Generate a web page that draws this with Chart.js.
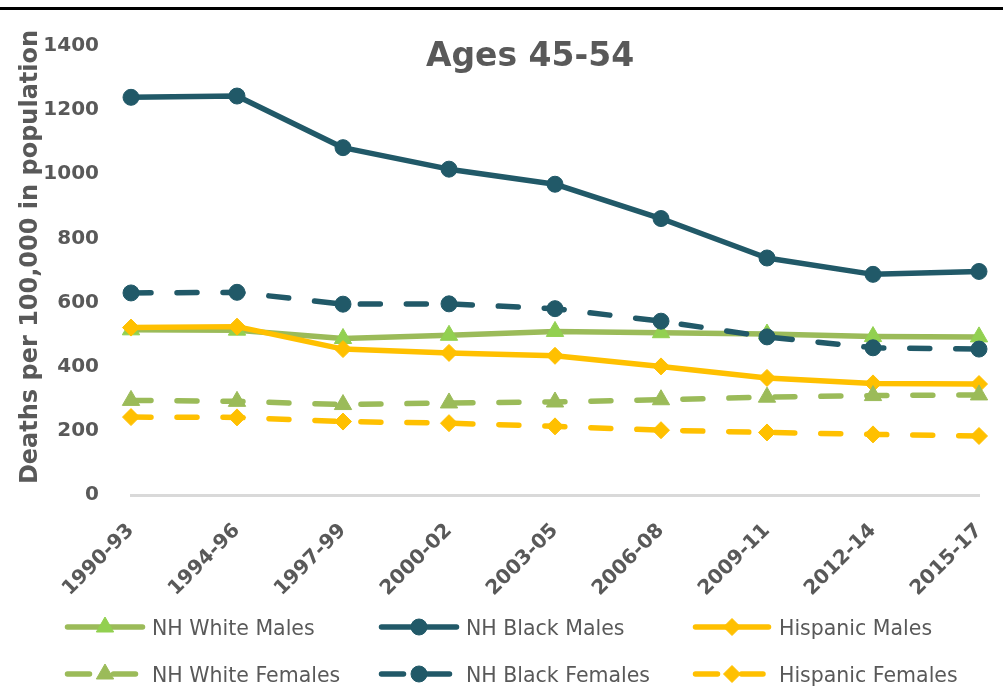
<!DOCTYPE html>
<html>
<head>
<meta charset="utf-8">
<script src="https://cdn.jsdelivr.net/npm/chart.js@4/dist/chart.umd.min.js"></script>
<style>
  html, body { margin: 0; padding: 0; background: #ffffff; }
  #wrap { position: relative; width: 1003px; height: 694px; }
  #topRule { position: absolute; left: 0; top: 7px; width: 1003px; height: 3px; background: #000; }
</style>
</head>
<body>
<div id="wrap">
  <canvas id="chart" width="1003" height="694"></canvas>
  <div id="topRule"></div>
</div>
<script>
// Periods (x categories)
const categories = ['1990-93', '1994-96', '1997-99', '2000-02', '2003-05', '2006-08', '2009-11', '2012-14', '2015-17'];

// Deaths per 100,000, ages 45-54
const nhWhiteMales     = [515, 514, 488, 498, 510, 506, 502, 494, 493];
const nhBlackMales     = [1240, 1244, 1083, 1016, 969, 862, 739, 688, 697];
const hispanicMales    = [522, 525, 455, 443, 434, 401, 365, 348, 346];
const nhWhiteFemales   = [295, 292, 282, 287, 290, 297, 305, 310, 312];
const nhBlackFemales   = [630, 632, 595, 596, 581, 542, 493, 459, 455];
const hispanicFemales  = [243, 242, 229, 224, 214, 202, 195, 189, 184];

// Y axis ticks
const yTicks = [0, 200, 400, 600, 800, 1000, 1200, 1400];

const chartTitle = 'Ages 45-54';
const yAxisTitle = 'Deaths per 100,000 in population';

const TEAL = '#215968';
const GREEN = '#9BBB59';
const GREEN_MARK = '#92D050';
const GOLD = '#FFC000';
const TEXT = '#595959';
const FONT = "'DejaVu Sans', sans-serif";
const DASH = [20, 26];

function series(label, data, color, markColor, shape, radius, dashed) {
  return {
    label, data,
    borderColor: color,
    backgroundColor: markColor,
    borderWidth: 5.5,
    borderDash: dashed ? DASH : [],
    borderCapStyle: 'round',
    borderJoinStyle: 'round',
    tension: 0,
    pointStyle: shape,
    pointRadius: radius,
    pointHoverRadius: radius,
    pointBackgroundColor: markColor,
    pointBorderColor: markColor,
    pointBorderWidth: 1,
    clip: false
  };
}

const datasets = [
  series('NH White Males', nhWhiteMales, GREEN, GREEN_MARK, 'triangle', 10, false),
  series('NH Black Males', nhBlackMales, TEAL, TEAL, 'circle', 8, false),
  series('Hispanic Males', hispanicMales, GOLD, GOLD, 'rectRot', 8.5, false),
  series('NH White Females', nhWhiteFemales, GREEN, GREEN, 'triangle', 10, true),
  series('NH Black Females', nhBlackFemales, TEAL, TEAL, 'circle', 8, true),
  series('Hispanic Females', hispanicFemales, GOLD, GOLD, 'rectRot', 8.5, true)
];
// later series are painted over earlier ones
datasets.forEach((d, i) => { d.order = datasets.length - i; });

// Legend grid: 3 columns x 2 rows, line sample with marker then label
const legendCols = [{ x0: 65, x1: 145, text: 152 }, { x0: 379, x1: 459, text: 466 }, { x0: 693, x1: 771, text: 779 }];
const legendRows = [627, 674];

const decorPlugin = {
  id: 'decor',
  afterDraw(chart) {
    const ctx = chart.ctx;
    ctx.save();
    // chart title
    ctx.fillStyle = TEXT;
    ctx.font = 'bold 33px ' + FONT;
    ctx.textAlign = 'center';
    ctx.textBaseline = 'alphabetic';
    ctx.fillText(chartTitle, 530, 66);

    // y axis title
    ctx.save();
    ctx.translate(37, 257);
    ctx.rotate(-Math.PI / 2);
    ctx.font = 'bold 24px ' + FONT;
    ctx.textAlign = 'center';
    ctx.textBaseline = 'alphabetic';
    ctx.fillText(yAxisTitle, 0, 0);
    ctx.restore();

    // legend
    chart.data.datasets.forEach((ds, i) => {
      const col = legendCols[i % 3];
      const y = legendRows[Math.floor(i / 3)];
      const dashed = ds.borderDash && ds.borderDash.length;
      ctx.save();
      ctx.strokeStyle = ds.borderColor;
      ctx.lineWidth = ds.borderWidth;
      ctx.lineCap = 'round';
      if (dashed) {
        ctx.setLineDash([22, 24]);
        ctx.beginPath();
        ctx.moveTo(col.x0 + 2.5, y);
        ctx.lineTo(col.x1 - 8, y);
        ctx.stroke();
      } else {
        ctx.beginPath();
        ctx.moveTo(col.x0 + 2.5, y);
        ctx.lineTo(col.x1 - 2.5, y);
        ctx.stroke();
      }
      ctx.restore();
      const cx = (col.x0 + col.x1) / 2;
      ctx.save();
      ctx.fillStyle = ds.pointBackgroundColor;
      ctx.strokeStyle = ds.pointBorderColor;
      ctx.lineWidth = 1;
      Chart.helpers.drawPoint(ctx, { pointStyle: ds.pointStyle, radius: ds.pointRadius, borderWidth: 1, rotation: 0 }, cx, y);
      ctx.restore();
      ctx.fillStyle = TEXT;
      ctx.font = '20.5px ' + FONT;
      ctx.textAlign = 'left';
      ctx.textBaseline = 'alphabetic';
      ctx.fillText(ds.label, col.text, y + 8);
    });
    ctx.restore();
  }
};

new Chart(document.getElementById('chart'), {
  type: 'line',
  data: { labels: categories, datasets },
  options: {
    responsive: false,
    animation: false,
    devicePixelRatio: 1,
    layout: { padding: { left: 0, right: 24, top: 46, bottom: 89 } },
    plugins: { legend: { display: false }, title: { display: false }, tooltip: { enabled: false } },
    elements: { line: { borderJoinStyle: 'round' } },
    scales: {
      x: {
        offset: false,
        grid: { display: false },
        border: { display: true, color: '#D9D9D9', width: 3 },
        ticks: {
          autoSkip: false,
          minRotation: 45,
          maxRotation: 45,
          padding: 16,
          color: TEXT,
          font: { family: FONT, size: 20, weight: 'bold' }
        },
        afterFit(scale) {
          scale.height = 110;
          scale.paddingLeft = 0;
          scale.paddingRight = 0;
        }
      },
      y: {
        min: 0,
        max: 1400,
        grid: { display: false },
        border: { display: false },
        afterBuildTicks(scale) { scale.ticks = yTicks.map(v => ({ value: v })); },
        ticks: {
          padding: 24,
          color: TEXT,
          font: { family: FONT, size: 20, weight: 'bold' },
          callback: (v) => String(v)
        },
        afterFit(scale) {
          scale.width = 131;
          scale.paddingTop = 0;
          scale.paddingBottom = 0;
        }
      }
    }
  },
  plugins: [decorPlugin]
});
</script>
</body>
</html>
